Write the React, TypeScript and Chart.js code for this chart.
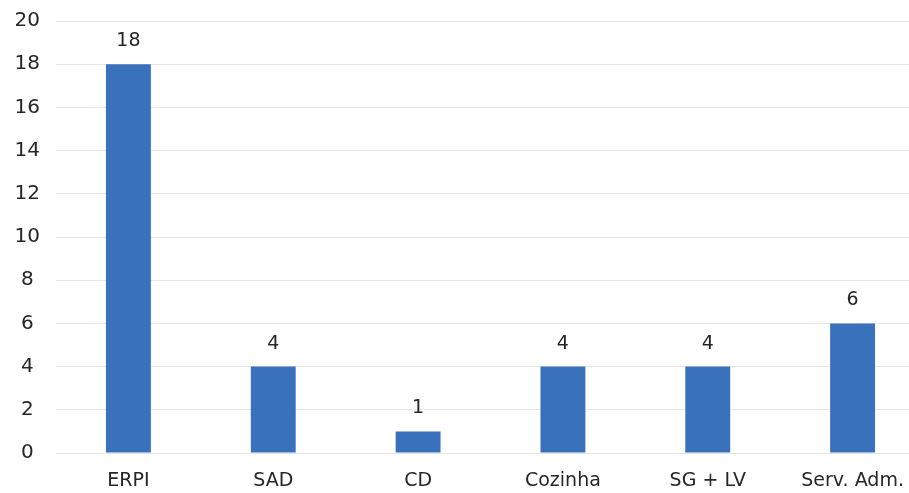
import React, { useEffect, useRef } from "react";
import { Chart, registerables } from "chart.js";

Chart.register(...registerables);

const categories = ["ERPI", "SAD", "CD", "Cozinha", "SG + LV", "Serv. Adm."];
const values = [18, 4, 1, 4, 4, 6];
const yTicks = [0, 2, 4, 6, 8, 10, 12, 14, 16, 18, 20];

const FONT = "'DejaVu Sans', sans-serif";
const TEXT = "#262626";

const labelPlugin = {
  id: "barLabels",
  afterDatasetsDraw(chart: any) {
    const ctx = chart.ctx;
    const meta = chart.getDatasetMeta(0);
    ctx.save();
    ctx.font = `19px ${FONT}`;
    ctx.fillStyle = TEXT;
    ctx.textAlign = "center";
    ctx.textBaseline = "middle";
    meta.data.forEach((bar: any, i: number) => {
      ctx.fillText(String(values[i]), bar.x, bar.y - 23);
    });
    ctx.restore();
  },
};

export default function App() {
  const ref = useRef<HTMLCanvasElement | null>(null);
  useEffect(() => {
    document.body.style.margin = "0";
    document.body.style.overflow = "hidden";
    const chart = new Chart(ref.current as HTMLCanvasElement, {
      type: "bar",
      data: {
        labels: categories,
        datasets: [
          {
            data: values,
            backgroundColor: "#3a71bd",
            barPercentage: 0.62,
            categoryPercentage: 0.5,
          },
        ],
      },
      options: {
        animation: false,
        responsive: false,
        maintainAspectRatio: false,
        layout: { padding: { top: 21, right: 0, bottom: 0, left: 0 } },
        plugins: { legend: { display: false }, tooltip: { enabled: false } },
        scales: {
          x: {
            grid: { display: false },
            border: { display: false },
            ticks: {
              color: TEXT,
              font: { family: FONT, size: 19 },
              padding: 9,
              maxRotation: 0,
            },
            afterFit(scale: any) {
              scale.height = 40;
            },
          },
          y: {
            min: 0,
            max: 20,
            afterBuildTicks(scale: any) {
              scale.ticks = yTicks.map((v) => ({ value: v }));
            },
            grid: { color: "#e6e6e6", lineWidth: 1, drawTicks: false },
            border: { display: false },
            ticks: {
              color: TEXT,
              font: { family: FONT, size: 20 },
              padding: 16,
              crossAlign: "center",
            },
            afterFit(scale: any) {
              scale.width = 56;
              scale.paddingTop = 12;
              scale.paddingBottom = 12;
            },
          },
        },
      },
      plugins: [labelPlugin],
    });
    return () => chart.destroy();
  }, []);
  return (
    <div style={{ position: "absolute", left: 0, top: 0, width: 925, height: 493 }}>
      <canvas ref={ref} width={925} height={493} />
    </div>
  );
}
